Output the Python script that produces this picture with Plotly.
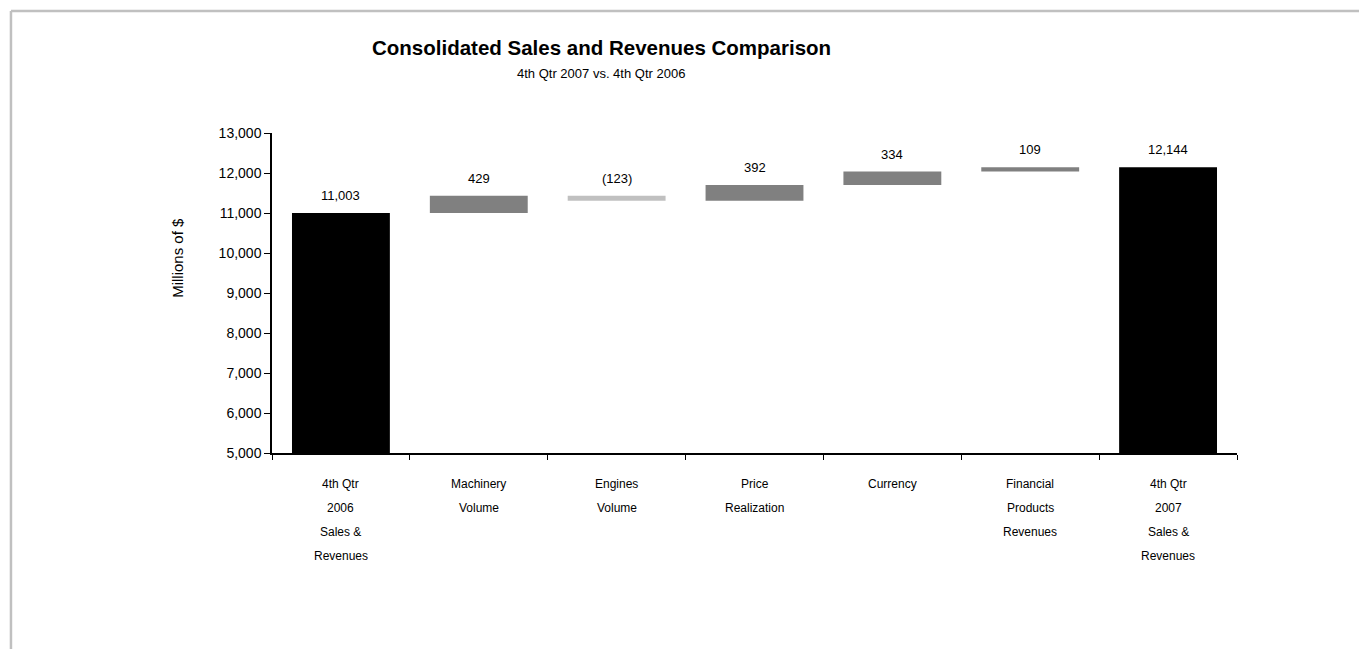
import plotly.graph_objects as go

categories = ["4th Qtr 2006 Sales & Revenues", "Machinery Volume", "Engines Volume",
              "Price Realization", "Currency", "Financial Products Revenues",
              "4th Qtr 2007 Sales & Revenues"]
label_lines = [["4th Qtr", "2006", "Sales &", "Revenues"],
               ["Machinery", "Volume"],
               ["Engines", "Volume"],
               ["Price", "Realization"],
               ["Currency"],
               ["Financial", "Products", "Revenues"],
               ["4th Qtr", "2007", "Sales &", "Revenues"]]
values = [11003, 429, -123, 392, 334, 109, 12144]
measures = ["absolute", "relative", "relative", "relative", "relative", "relative", "total"]
bar_labels = ["11,003", "429", "(123)", "392", "334", "109", "12,144"]
y_ticks = [5000, 6000, 7000, 8000, 9000, 10000, 11000, 12000, 13000]

FONT = "Liberation Sans, Arial, sans-serif"

fig = go.Figure()
fig.add_trace(go.Waterfall(
    x=categories, y=values, measure=measures,
    width=0.71,
    increasing=dict(marker=dict(color="#808080", line=dict(width=0))),
    decreasing=dict(marker=dict(color="#c0c0c0", line=dict(width=0))),
    totals=dict(marker=dict(color="#000000", line=dict(width=0))),
    connector=dict(visible=False),
    textposition="none",
    showlegend=False,
    hoverinfo="skip",
    base=0,
))

# value labels above each bar (top of bar from running total)
running = 0
tops = []
for v, m in zip(values, measures):
    if m == "absolute":
        running = v
        tops.append(v)
    elif m == "total":
        tops.append(running)
    else:
        start = running
        running += v
        tops.append(max(start, running))

annotations = []
for c, t, lab in zip(categories, tops, bar_labels):
    annotations.append(dict(x=c, y=t, xref="x", yref="y", text=lab, showarrow=False,
                            yanchor="bottom", yshift=8,
                            font=dict(family=FONT, size=13, color="black")))

# category labels, line by line
for c, lines in zip(categories, label_lines):
    for i, line in enumerate(lines):
        annotations.append(dict(x=c, y=0, xref="x", yref="paper", text=line,
                                showarrow=False, yanchor="middle", yshift=-31 - 24 * i,
                                font=dict(family=FONT, size=12, color="black")))

annotations.append(dict(x=0.341, y=1, xref="paper", yref="paper",
                        text="<b>Consolidated Sales and Revenues Comparison</b>",
                        showarrow=False, yanchor="middle", yshift=86,
                        font=dict(family=FONT, size=20.5, color="black")))
annotations.append(dict(x=0.341, y=1, xref="paper", yref="paper",
                        text="4th Qtr 2007 vs. 4th Qtr 2006",
                        showarrow=False, yanchor="middle", yshift=60,
                        font=dict(family=FONT, size=13, color="black")))
annotations.append(dict(x=-0.0974, y=0.61, xref="paper", yref="paper",
                        text="Millions of $", textangle=-90, showarrow=False,
                        xanchor="center", yanchor="middle",
                        font=dict(family=FONT, size=15, color="black")))

# the page body adds an 8px offset, so the figure is 8px smaller with 8px smaller left/top margins
fig.update_layout(
    width=1359, height=641,
    margin=dict(l=264, r=130, t=125, b=196),
    paper_bgcolor="white", plot_bgcolor="white",
    annotations=annotations,
    shapes=[
        dict(type="line", xref="paper", yref="paper", x0=-0.2705, x1=1.14,
             y0=1.38125, y1=1.38125, line=dict(color="#c0c0c0", width=2.5)),
        dict(type="line", xref="paper", yref="paper", x0=-0.2705, x1=-0.2705,
             y0=1.38125, y1=-0.62, line=dict(color="#c0c0c0", width=2.5)),
    ],
    xaxis=dict(showticklabels=False, ticks="outside", tickson="boundaries",
               ticklen=5, tickcolor="black", showline=True, linecolor="black",
               linewidth=1.5, showgrid=False, zeroline=False),
    yaxis=dict(range=[5000, 13000], tickvals=y_ticks, tickformat=",",
               ticks="outside", ticklen=6, tickcolor="black", showline=True,
               linecolor="black", linewidth=1.5, showgrid=False, zeroline=False,
               tickfont=dict(family=FONT, size=14, color="black")),
    font=dict(family=FONT),
)

fig.write_html("out.html")
